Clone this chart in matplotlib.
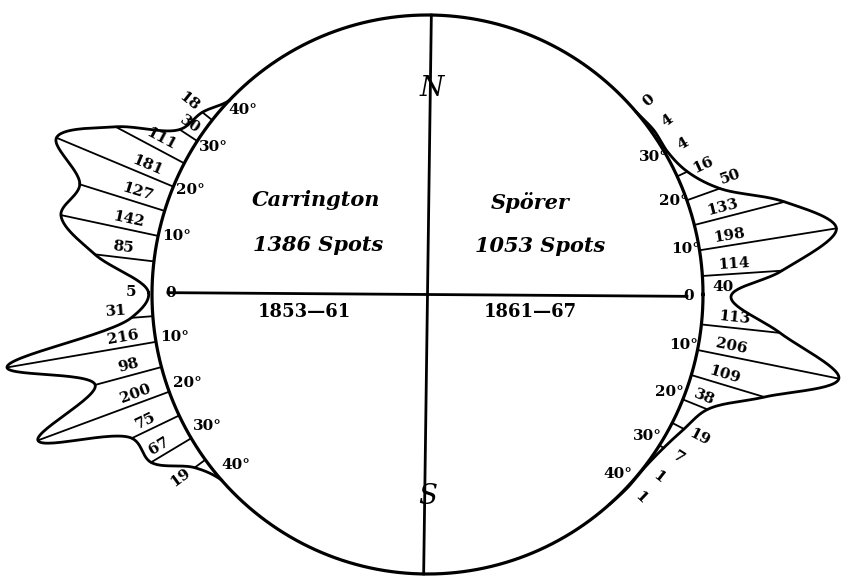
import numpy as np
import matplotlib
matplotlib.use("Agg")
import matplotlib.pyplot as plt

plt.rcParams['font.family'] = ['DejaVu Serif']

# ---------------- data (spot counts per latitude) -------------
carr_lat_n = [0, 5, 10, 15, 20, 25, 30, 35]
carr_n = [5, 85, 142, 127, 181, 111, 30, 18]
carr_lat_s = [5, 10, 15, 20, 25, 30, 35]
carr_s = [31, 216, 98, 200, 75, 67, 19]

spor_lat_n = [0, 5, 10, 15, 20, 25, 30, 35, 40]
spor_n = [40, 114, 198, 133, 50, 16, 4, 4, 0]
spor_lat_s = [5, 10, 15, 20, 25, 30, 35, 40]
spor_s = [113, 206, 109, 38, 19, 7, 1, 1]

deg_ticks_left_n = [0, 10, 20, 30, 40]
deg_ticks_left_s = [10, 20, 30, 40]
deg_ticks_right_n = [0, 10, 20, 30]
deg_ticks_right_s = [10, 20, 30, 40]

# ---------------- geometry (hand-drawn disc, slightly tilted) ------------------------
CX, CY, A, B = 427.5, 294.5, 275.5, 279.5
K = 1.06
SCALE = 0.70   # px per spot

def tilt(lat):
    w = min(abs(lat) / 5.0, 1.0)
    return 0.4 + (1.1 if lat > 0 else 0.45) * w

def theta(side, lat):
    base = K * lat if side == 'R' else 180 - K * lat
    return np.radians(base - tilt(lat))

def pt(th):
    return np.array([CX + A * np.cos(th), CY - B * np.sin(th)])

def outv(th):
    return np.array([np.cos(th), -np.sin(th)])

def tip(side, lat, val):
    th = theta(side, lat)
    return pt(th) + outv(th) * val * SCALE

def catmull_rom(P, n=30, alpha=0.5):
    P = np.asarray(P, float)
    res = []
    for i in range(1, len(P) - 2):
        p0, p1, p2, p3 = P[i - 1], P[i], P[i + 1], P[i + 2]
        t0 = 0.0
        t1 = t0 + max(np.linalg.norm(p1 - p0), 1e-6) ** alpha
        t2 = t1 + max(np.linalg.norm(p2 - p1), 1e-6) ** alpha
        t3 = t2 + max(np.linalg.norm(p3 - p2), 1e-6) ** alpha
        t = np.linspace(t1, t2, n)[:, None]
        A1 = (t1 - t) / (t1 - t0) * p0 + (t - t0) / (t1 - t0) * p1
        A2 = (t2 - t) / (t2 - t1) * p1 + (t - t1) / (t2 - t1) * p2
        A3 = (t3 - t) / (t3 - t2) * p2 + (t - t2) / (t3 - t2) * p3
        B1 = (t2 - t) / (t2 - t0) * A1 + (t - t0) / (t2 - t0) * A2
        B2 = (t3 - t) / (t3 - t1) * A2 + (t - t1) / (t3 - t1) * A3
        C = (t2 - t) / (t2 - t1) * B1 + (t - t1) / (t2 - t1) * B2
        res.append(C)
    return np.vstack(res)

fig = plt.figure(figsize=(8.59, 5.80), dpi=100)
ax = fig.add_axes([0, 0, 1, 1])
ax.set_xlim(0, 859)
ax.set_ylim(580, 0)
ax.axis('off')

# sun disc
tt = np.linspace(0, 2 * np.pi, 721)
E = np.array([pt(t) for t in tt])
ax.plot(E[:, 0], E[:, 1], color='black', lw=2.3)

# polar axis
top, bot = pt(np.radians(90 - 0.8)), pt(np.radians(270 - 0.8))
ax.plot([top[0], bot[0]], [top[1], bot[1]], color='black', lw=2.0)
# equator
thL, thR = theta('L', 0), theta('R', 0)
eL = pt(thL) - outv(thL) * 16
eR = pt(thR) - outv(thR) * 16
ax.plot([eL[0], eR[0]], [eL[1], eR[1]], color='black', lw=2.0)

def profile(side, lats, vals, end_lat_n, end_lat_s):
    pts = [pt(theta(side, end_lat_n + 5)), pt(theta(side, end_lat_n))]
    for la, v in zip(lats, vals):
        pts.append(tip(side, la, v))
    pts += [pt(theta(side, end_lat_s)), pt(theta(side, end_lat_s - 5))]
    C = catmull_rom(pts)
    ax.plot(C[:, 0], C[:, 1], color='black', lw=2.0, solid_joinstyle='round')

def count_marks(side, lats, vals, north, equator_val=0):
    for i, (la, v) in enumerate(zip(lats, vals)):
        th = theta(side, la)
        p0 = pt(th)
        d = outv(th)
        L = v * SCALE
        # neighbour lying "above" the line in the picture
        if north:
            above = vals[i + 1] if i + 1 < len(vals) else 0
        else:
            above = vals[i - 1] if i > 0 else equator_val
        if la != 0:
            p1 = p0 + d * L
            ax.plot([p0[0], p1[0]], [p0[1], p1[1]], color='black', lw=1.3)
        if np.cos(th) > 0:
            rot = np.degrees(th)
            perp = np.array([-np.sin(th), -np.cos(th)])
        else:
            rot = np.degrees(th) - 180
            perp = np.array([np.sin(th), np.cos(th)])
        if L < 15:
            pos = p0 + d * (L + 17)
        elif above * SCALE < 12:
            pos = p0 + d * (L + 14) + perp * 8
        else:
            pos = p0 + d * min(32, 0.7 * L) + perp * 10
        ax.text(pos[0], pos[1], str(v), rotation=rot, rotation_mode='anchor',
                ha='center', va='center', fontsize=11, fontweight='bold')

def deg_labels(side, lats, inward):
    for la in lats:
        th = theta(side, la)
        p = pt(th) - outv(th) * inward
        if la > 0:
            p[1] -= 4
        elif la < 0:
            p[1] -= 2
        s = '0' if la == 0 else f'{abs(la)}°'
        ax.text(p[0], p[1], s, ha='center', va='center', fontsize=11,
                fontweight='bold')

# Carrington (left)
lat_left = list(reversed(carr_lat_n)) + [-l for l in carr_lat_s]
val_left = list(reversed(carr_n)) + carr_s
profile('L', lat_left, val_left, 40, -40)
count_marks('L', carr_lat_n, carr_n, True)
count_marks('L', [-l for l in carr_lat_s], carr_s, False, carr_n[0])
deg_labels('L', deg_ticks_left_n, 19)
deg_labels('L', [-l for l in deg_ticks_left_s], 19)

# Spoerer (right)
lat_right = list(reversed(spor_lat_n[:-1])) + [-l for l in spor_lat_s]
val_right = list(reversed(spor_n[:-1])) + spor_s
profile('R', lat_right, val_right, 40, -45)
count_marks('R', spor_lat_n, spor_n, True)
count_marks('R', [-l for l in spor_lat_s], spor_s, False, spor_n[0])
deg_labels('R', deg_ticks_right_n, 14)
deg_labels('R', [-l for l in deg_ticks_right_s], 14)

# titles
bi = dict(fontsize=15, fontweight='bold', style='italic', ha='center', va='center')
ax.text(316, 200, 'Carrington', **bi)
ax.text(318, 245, '1386 Spots', **bi)
ax.text(530, 203, 'Spörer', **bi)
ax.text(540, 246, '1053 Spots', **bi)
ax.text(304, 312, '1853—61', fontsize=13, fontweight='bold', ha='center', va='center')
ax.text(530, 312, '1861—67', fontsize=13, fontweight='bold', ha='center', va='center')
ax.text(432, 88, 'N', fontsize=20, style='italic', ha='center', va='center')
ax.text(428, 497, 'S', fontsize=20, style='italic', ha='center', va='center')

fig.savefig('out.png', dpi=100, facecolor='white')
